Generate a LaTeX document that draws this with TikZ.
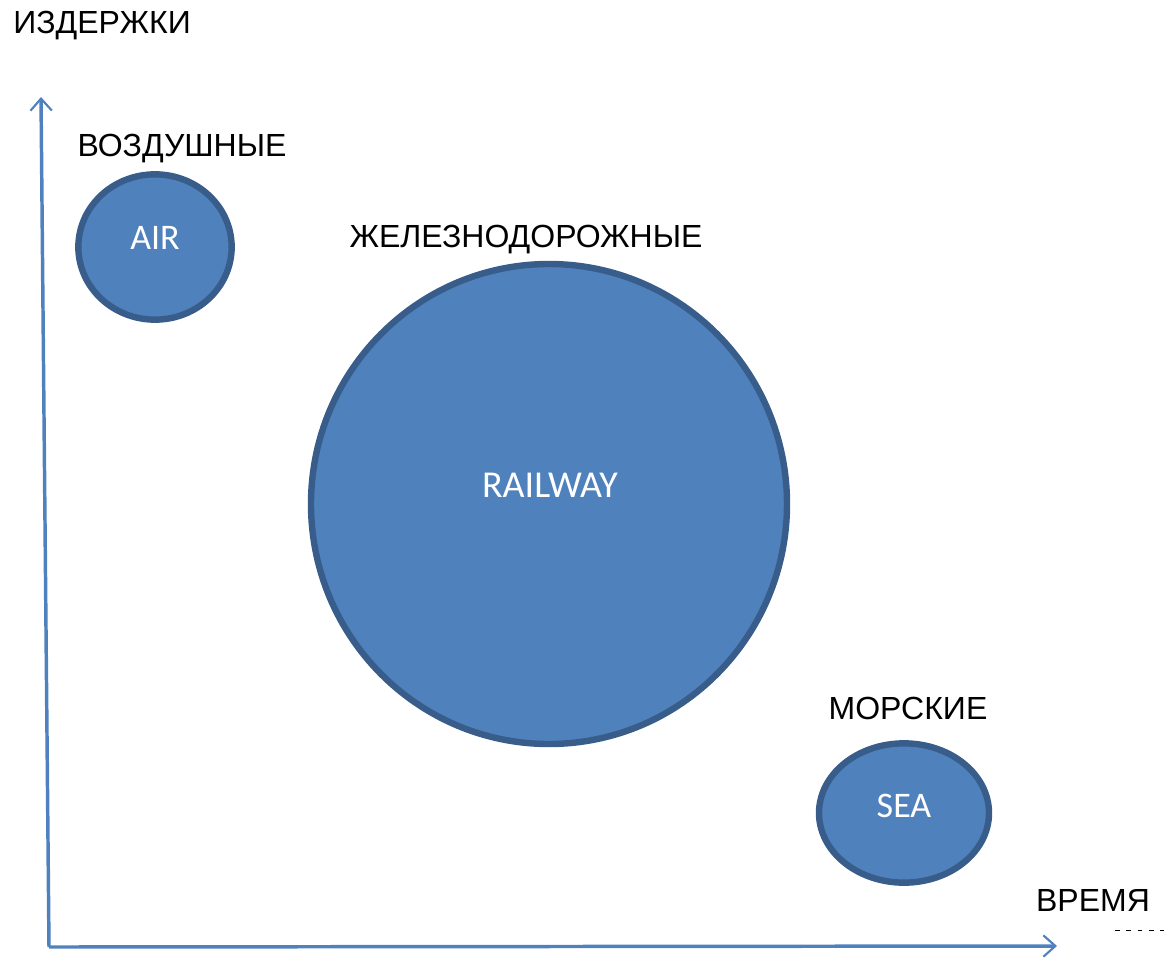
\documentclass[tikz,border=0pt]{standalone}
\usepackage{fontspec}
\setmainfont{Liberation Sans}
\newfontfamily\calibrifont{Carlito}
\usetikzlibrary{arrows.meta,shapes.geometric}

\definecolor{axisblue}{HTML}{4F81BD}
\definecolor{fillblue}{HTML}{4F81BD}
\definecolor{rimblue}{HTML}{385D8A}

\begin{document}
\begin{tikzpicture}[x=0.75pt,y=-0.75pt,
                    >={Straight Barb[length=9pt,width=16pt,line width=1.6pt]}]
  \tikzstyle{axis}=[->,draw=axisblue,line width=2.6pt]
  \tikzstyle{mode}=[ellipse,draw=rimblue,fill=fillblue,line width=4.8pt,inner sep=0pt]
  \tikzstyle{modetext}=[text=white,font=\calibrifont\fontsize{27}{30}\selectfont,inner sep=0pt]
  \tikzstyle{caption}=[font=\fontsize{24}{28}\selectfont,inner sep=0pt]

  \useasboundingbox (0,0) rectangle (1168,961);

  \coordinate (origin) at (49,947);
  \coordinate (ytop)   at (41,97);
  \coordinate (xend)   at (1057,946);

  \node[mode,minimum width=115pt,minimum height=109pt] (air) at (155,247) {};
  \node[mode,minimum width=357pt,minimum height=360pt] (rail) at (549,504) {};
  \node[mode,minimum width=127.5pt,minimum height=104.5pt] (sea) at (904,813) {};

  \node[modetext,anchor=base] (airtxt) at (155,249) {AIR};
  \node[modetext,anchor=base,font=\calibrifont\fontsize{28.5}{30}\selectfont] (railtxt) at (550,497) {RAILWAY};
  \node[modetext,anchor=base] (seatxt) at (904,817) {SEA};

  \node[caption,anchor=base west] (costs) at (13,33) {ИЗДЕРЖКИ};
  \node[caption,anchor=base] (airlbl)  at (182,156) {ВОЗДУШНЫЕ};
  \node[caption,anchor=base] (raillbl) at (526,247) {ЖЕЛЕЗНОДОРОЖНЫЕ};
  \node[caption,anchor=base] (sealbl)  at (908,719) {МОРСКИЕ};
  \node[caption,anchor=base] (time)    at (1093,911) {ВРЕМЯ};

  \coordinate (dashA) at (1115,930);
  \coordinate (dashB) at (1164,930);

  \draw[axis] (origin) -- (ytop);
  \draw[axis] (origin) -- (xend);
  \draw[black,line width=0.7pt,dash pattern=on 3.5pt off 5pt] (dashA) -- (dashB);
\end{tikzpicture}
\end{document}
